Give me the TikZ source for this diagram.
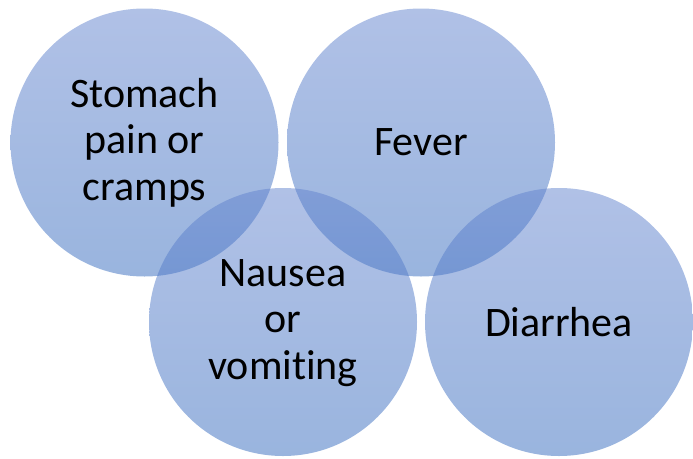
\documentclass[tikz,border=0pt]{standalone}
\usepackage{fontspec}
\setmainfont[Ligatures={NoCommon}]{Carlito}
\definecolor{ctop}{RGB}{98,131,206}
\definecolor{cbot}{RGB}{52,106,190}
\tikzset{
  blob/.style={circle, minimum size=268pt, inner sep=0pt, top color=ctop, bottom color=cbot, fill opacity=0.5, draw=none},
  lbl/.style={align=center, text=black, font=\fontsize{42}{46.5}\selectfont, inner sep=0pt}
}
\begin{document}
\begin{tikzpicture}[x=1pt,y=-1pt]
\useasboundingbox (0,0) rectangle (693,458);
\node[blob] (c1) at (144.5,142.5) {};
\node[blob] (c2) at (421,142.5) {};
\node[blob] (c3) at (283,322) {};
\node[blob] (c4) at (559,322) {};
\node[lbl] (t1) at ([yshift=0pt]c1.center) {Stomach\\pain or\\cramps};
\node[lbl] (t2) at ([yshift=0pt]c2.center) {Fever};
\node[lbl] (t3) at ([yshift=-1pt]c3.center) {Nausea\\or\\vomiting};
\node[lbl] (t4) at ([yshift=0pt]c4.center) {Diarrhea};
\end{tikzpicture}
\end{document}
